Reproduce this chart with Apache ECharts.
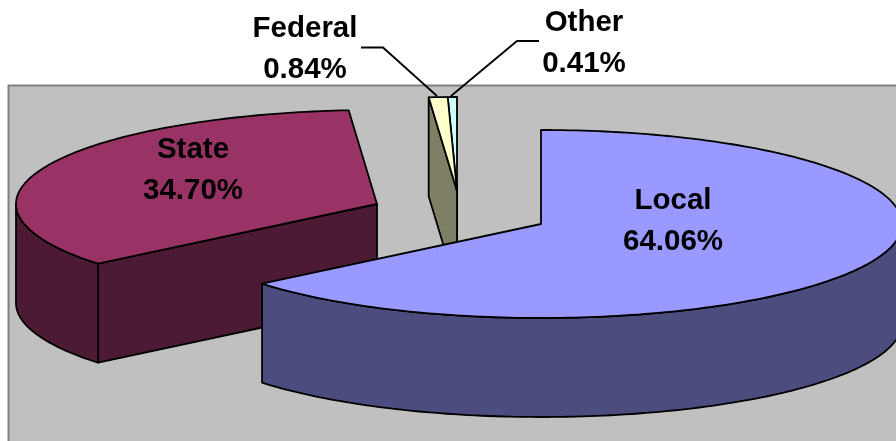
<!DOCTYPE html>
<html>
<head>
<meta charset="utf-8">
<style>html,body{margin:0;padding:0;background:#fff}#chart{width:896px;height:441px}</style>
<script src="https://cdn.jsdelivr.net/npm/echarts@6/dist/echarts.min.js"></script>
</head>
<body>
<div id="chart"></div>
<script>
const categories = ['Local', 'State', 'Federal', 'Other'];
const shares = [64.06, 34.70, 0.84, 0.41];
const topColors = ['#9999FF', '#993366', '#FFFFCC', '#CCFFFF'];
const sideColors = ['#4C4C7F', '#4D1A33', '#7F7F66', '#667F7F'];

// layout of the exploded 3D pie (pixels)
const RX = 361, RY = 94, DEPTH = 99;
const centers = [[541, 224], [377, 204], [457, 191], [457, 191]];
const paintRank = [4, 1, 3, 2];
const labelPos = [[673, 221], [193, 170], [305, 49], [584, 43]];
const leaders = {
  Federal: [[361, 47.5], [383, 47.5], [437, 96]],
  Other: [[539, 41], [517, 41], [451, 96]]
};

const total = shares.reduce((a, b) => a + b, 0);
const rimPoint = (c, a, dy) => [c[0] + RX * Math.sin(a), c[1] - RY * Math.cos(a) + (dy || 0)];
const arc = (c, a0, a1, dy) => {
  const n = Math.max(2, Math.ceil(Math.abs(a1 - a0) / 0.02));
  const pts = [];
  for (let i = 0; i <= n; i++) pts.push(rimPoint(c, a0 + (a1 - a0) * i / n, dy));
  return pts;
};
const stroke = { stroke: '#000', lineWidth: 1.8, lineJoin: 'round' };

function renderItem(params, api) {
  const i = params.dataIndex;
  let before = 0;
  for (let k = 0; k < i; k++) before += shares[k];
  const a0 = before / total * 2 * Math.PI;
  const a1 = (before + api.value(0)) / total * 2 * Math.PI;
  const c = centers[i];
  const z = paintRank[i] * 10;
  const children = [];
  const poly = (points, fill, dz) => children.push({
    type: 'polygon', z2: z + dz, shape: { points },
    style: Object.assign({ fill }, stroke)
  });

  // cut face on the start edge, when it faces the viewer
  if (Math.sin(a0) < -1e-6) {
    const p = rimPoint(c, a0);
    poly([c, p, [p[0], p[1] + DEPTH], [c[0], c[1] + DEPTH]], sideColors[i], 0);
  }
  // outer wall: the front half of the rim
  const lo = Math.max(a0, Math.PI / 2), hi = Math.min(a1, 1.5 * Math.PI);
  if (hi > lo) {
    poly(arc(c, lo, hi, 0).concat(arc(c, hi, lo, DEPTH)), sideColors[i], 1);
  }
  // top face
  poly([c].concat(arc(c, a0, a1, 0)), topColors[i], 2);

  // label
  children.push({
    type: 'text', z2: 100, x: labelPos[i][0], y: labelPos[i][1],
    style: {
      text: categories[i] + '\n' + api.value(0).toFixed(2) + '%',
      font: 'bold 29.5px "Liberation Sans", Arial, sans-serif',
      lineHeight: 41, fill: '#000', align: 'center', verticalAlign: 'middle'
    }
  });
  const lead = leaders[categories[i]];
  if (lead) {
    children.push({
      type: 'polyline', z2: 100, shape: { points: lead },
      style: { stroke: '#000', lineWidth: 1.8, fill: null }
    });
  }
  return { type: 'group', children };
}

const chart = echarts.init(document.getElementById('chart'), null, { renderer: 'canvas' });
chart.setOption({
  animation: false,
  backgroundColor: '#fff',
  graphic: [{
    type: 'rect', z: 0, silent: true,
    shape: { x: 8.5, y: 85.5, width: 900, height: 400 },
    style: { fill: '#C0C0C0', stroke: '#808080', lineWidth: 2 }
  }],
  series: [{
    type: 'custom', coordinateSystem: 'none', z: 5, clip: false, silent: true,
    renderItem,
    data: shares.map((v, i) => ({ name: categories[i], value: [v] }))
  }]
});
</script>
</body>
</html>
